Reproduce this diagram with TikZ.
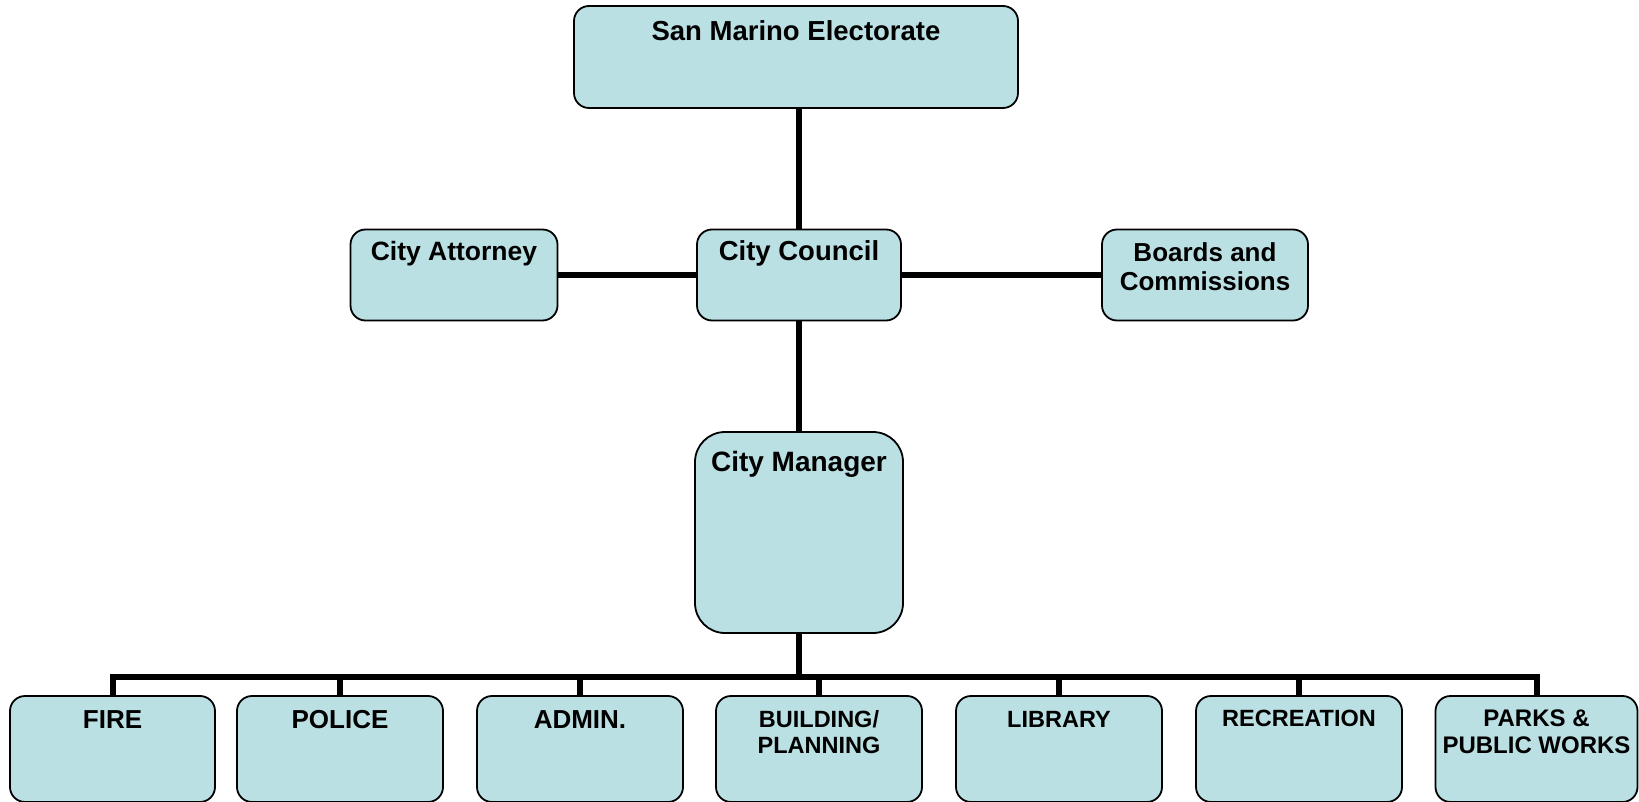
\documentclass[tikz,border=0pt]{standalone}
\usepackage{fontspec}
\setmainfont{Liberation Sans}
\usetikzlibrary{calc}
\definecolor{boxfill}{RGB}{187,224,227}
\begin{document}
\begin{tikzpicture}[x=1pt,y=-1pt,
  orgbox/.style={draw=black, line width=1.8pt, fill=boxfill, rounded corners=15pt, inner sep=0pt, outer sep=0pt},
  link/.style={draw=black, line width=6pt, line join=miter},
  ttl/.style={anchor=base, inner sep=0pt, font=\bfseries\fontsize{26.5}{30}\selectfont},
  big/.style={anchor=base, inner sep=0pt, font=\bfseries\fontsize{26}{30}\selectfont},
  small/.style={anchor=base, inner sep=0pt, font=\bfseries\fontsize{23.5}{27}\selectfont}
]
\useasboundingbox (0,0) rectangle (1639,802);

% boxes
\node[orgbox, minimum width=444pt, minimum height=102pt] (elect) at (796,57) {};
\node[orgbox, minimum width=207pt, minimum height=91pt] (attorney) at (454,275) {};
\node[orgbox, minimum width=204pt, minimum height=91pt] (council) at (799,275) {};
\node[orgbox, minimum width=206pt, minimum height=91pt] (boards) at (1205,275) {};
\node[orgbox, minimum width=208pt, minimum height=201pt, rounded corners=30pt] (manager) at (799,532.5) {};

\node[orgbox, minimum width=205pt, minimum height=106pt] (fire) at (112.5,749) {};
\node[orgbox, minimum width=206pt, minimum height=106pt] (police) at (340,749) {};
\node[orgbox, minimum width=206pt, minimum height=106pt] (admin) at (580,749) {};
\node[orgbox, minimum width=206pt, minimum height=106pt] (building) at (819,749) {};
\node[orgbox, minimum width=206pt, minimum height=106pt] (library) at (1059,749) {};
\node[orgbox, minimum width=206pt, minimum height=106pt] (recreation) at (1299,749) {};
\node[orgbox, minimum width=202pt, minimum height=106pt] (parks) at (1536.5,749) {};

% labels
\node[ttl, font=\bfseries\fontsize{27.5}{30}\selectfont] (elect-t) at (796,40.5) {San Marino Electorate};
\node[ttl] (attorney-t) at (454,261) {City Attorney};
\node[ttl, font=\bfseries\fontsize{27.5}{30}\selectfont] (council-t) at (799,261) {City Council};
\node[ttl, font=\bfseries\fontsize{26}{30}\selectfont] (boards-t1) at (1205,261.5) {Boards and};
\node[ttl, font=\bfseries\fontsize{26}{30}\selectfont] (boards-t2) at (1205,291) {Commissions};
\node[ttl, font=\bfseries\fontsize{28}{30}\selectfont] (manager-t) at (799,471.7) {City Manager};

\node[big] (fire-t) at (112.5,728.5) {FIRE};
\node[big] (police-t) at (340,728.5) {POLICE};
\node[big] (admin-t) at (580,728.3) {ADMIN.};
\node[small] (building-t1) at (819,727.4) {BUILDING/};
\node[small] (building-t2) at (819,753.4) {PLANNING};
\node[small] (library-t) at (1059,727.4) {LIBRARY};
\node[small] (recreation-t) at (1299,726.2) {RECREATION};
\node[small, font=\bfseries\fontsize{24}{27}\selectfont] (parks-t1) at (1536.5,726.4) {PARKS \&};
\node[small, font=\bfseries\fontsize{24}{27}\selectfont] (parks-t2) at (1536.5,753) {PUBLIC WORKS};

% connectors
\coordinate (bus) at (799,676.5);
\draw[link] (council.north |- elect.south) -- (council.north);
\draw[link] (attorney.east) -- (council.west);
\draw[link] (council.east) -- (boards.west);
\draw[link] (council.south) -- (manager.north);
\draw[link] (manager.south) -- (bus);
\draw[link] (fire.north) -- (fire.north |- bus) -- (parks.north |- bus) -- (parks.north);
\foreach \n in {police,admin,building,library,recreation}
  \draw[link] (\n.north) -- (\n.north |- bus);
\end{tikzpicture}
\end{document}
